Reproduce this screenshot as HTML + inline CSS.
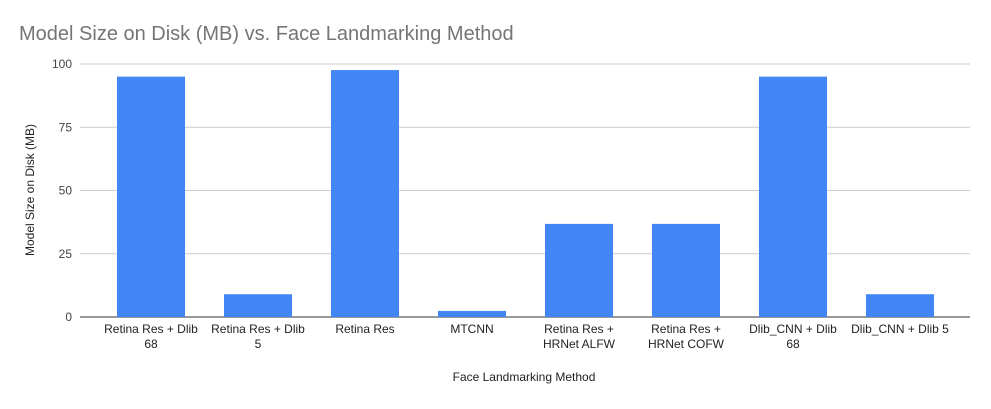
<!DOCTYPE html>
<html><head><meta charset="utf-8"><style>
body{margin:0;background:#fff;font-family:"Liberation Sans",Arial,sans-serif}
svg text{font-family:"Liberation Sans",Arial,sans-serif}
</style></head><body>
<svg id="chart" width="991" height="404" xmlns="http://www.w3.org/2000/svg">
<rect width="991" height="404" fill="#fff"/>
<text x="19" y="40" font-size="20" fill="#757575">Model Size on Disk (MB) vs. Face Landmarking Method</text>
<g id="grid"></g><g id="bars"></g><g id="xlabels"></g>
<text x="524" y="381" font-size="12" text-anchor="middle" fill="#222">Face Landmarking Method</text>
<text transform="translate(34,190) rotate(-90)" font-size="12" text-anchor="middle" fill="#222">Model Size on Disk (MB)</text>
</svg>
<script>
const categories=[["Retina Res + Dlib","68"],["Retina Res + Dlib","5"],["Retina Res"],["MTCNN"],["Retina Res +","HRNet ALFW"],["Retina Res +","HRNet COFW"],["Dlib_CNN + Dlib","68"],["Dlib_CNN + Dlib 5"]];
const values=[95,9,97.6,2.4,36.8,36.8,95,9];
const ticks=[0,25,50,75,100];
const NS="http://www.w3.org/2000/svg";
const y0=317,y1=64,left=80,right=970,bandStart=97.5,band=107,barW=68;
const y=v=>y0-(v/100)*(y0-y1);
const xc=i=>bandStart+band*(i+0.5);
function mk(t,a,p){const e=document.createElementNS(NS,t);for(const k in a)e.setAttribute(k,a[k]);p.appendChild(e);return e;}
const g=document.getElementById('grid');
ticks.forEach(t=>{
 const l=mk('line',{x1:left,x2:right,y1:y(t),y2:y(t),stroke:t===0?'#333':'#ccc','stroke-width':1},g);
 
 
 const tx=mk('text',{x:72,y:y(t)+4,'font-size':12,'text-anchor':'end',fill:'#444'},g);
 tx.textContent=t;
 
 
});
const b=document.getElementById('bars'),xl=document.getElementById('xlabels');
values.forEach((v,i)=>{
 const r=mk('rect',{x:xc(i)-barW/2,y:y(v),width:barW,height:y0-y(v),fill:'#4285f4'},b);
 
 
 categories[i].forEach((line,j)=>{
  const t=mk('text',{x:xc(i),y:333+j*15,'font-size':12,'text-anchor':'middle',fill:'#222'},xl);
  t.textContent=line;
  
  
 });
});
</script>
</body></html>
